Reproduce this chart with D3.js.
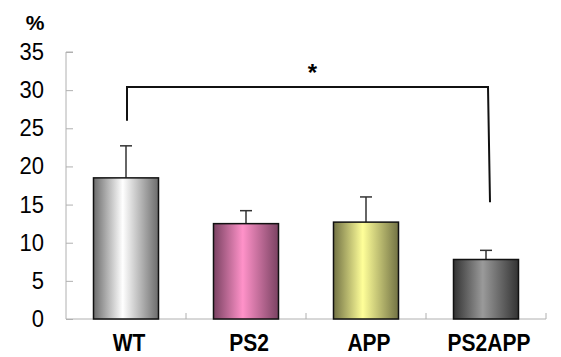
<!DOCTYPE html>
<html><head><meta charset="utf-8">
<script src="https://cdn.jsdelivr.net/npm/d3@7"></script>
<style>body{margin:0;background:#fff}</style>
</head><body>
<svg id="c" width="561" height="357"></svg>
<script>
const categories = ["WT", "PS2", "APP", "PS2APP"];
const means = [18.5, 12.5, 12.7, 7.8];
const errors = [4.2, 1.7, 3.3, 1.2];
const yTicks = [0, 5, 10, 15, 20, 25, 30, 35];
const edgeColors = ["#6c6c6c", "#7a4262", "#727244", "#333333"];
const centerColors = ["#ffffff", "#ff92c9", "#ffff99", "#9a9a9a"];
const bracket = {from: "WT", to: "PS2APP", top: 30.4, leftEnd: 26.0, rightEnd: 15.3, label: "*"};

(function () {
const svg = d3.select("#c");
const pL = 66, pR = 546, pT = 52, pB = 319;
const x = d3.scaleBand().domain(categories).range([pL, pR]).paddingInner(0).paddingOuter(0);
const y = d3.scaleLinear().domain([0, 35]).range([pB, pT]);

const defs = svg.append("defs");
categories.forEach((c, i) => {
  const g = defs.append("linearGradient").attr("id", "g" + i).attr("x1", "0").attr("x2", "1").attr("y1", "0").attr("y2", "0");
  g.append("stop").attr("offset", "0").attr("stop-color", edgeColors[i]);
  g.append("stop").attr("offset", "0.45").attr("stop-color", centerColors[i]);
  g.append("stop").attr("offset", "1").attr("stop-color", edgeColors[i]);
});

// y axis
const yAxis = svg.append("g").attr("transform", `translate(${pL},0)`)
  .call(d3.axisRight(y).tickValues(yTicks).tickSize(7).tickFormat(""));
yAxis.select(".domain").attr("stroke", "#b0b0b0").attr("d", `M7,${pT}H0V${pB}`);
yAxis.selectAll(".tick line").attr("stroke", "#b0b0b0");

svg.append("g").selectAll("text").data(yTicks).join("text")
  .attr("transform", d => `translate(44,${y(d) + 8}) scale(1,1.05)`)
  .attr("text-anchor", "end").attr("font-family", "Liberation Sans, Arial, sans-serif")
  .attr("font-size", 22).attr("fill", "#000").text(d => d);
svg.append("text").attr("x", 35).attr("y", 30).attr("text-anchor", "middle")
  .attr("font-family", "Liberation Sans, Arial, sans-serif").attr("font-weight", "bold")
  .attr("font-size", 21).text("%");

// x axis
const xAxis = svg.append("g").attr("transform", `translate(0,${pB})`)
  .call(d3.axisBottom(x).tickSize(0).tickFormat(""));
xAxis.select(".domain").attr("stroke", "#b0b0b0").attr("d", `M${pL},0H${pR}`);
xAxis.selectAll(".tick").remove();
const bounds = categories.map(c => x(c) + x.bandwidth());
svg.append("g").selectAll("line").data(bounds).join("line")
  .attr("x1", d => d).attr("x2", d => d).attr("y1", pB).attr("y2", pB - 6)
  .attr("stroke", "#b0b0b0");

// bars
const bw = 65;
const cx = c => x(c) + x.bandwidth() / 2;
svg.append("g").selectAll("line").data(categories).join("line")
  .attr("x1", c => cx(c)).attr("x2", c => cx(c))
  .attr("y1", (c, i) => y(means[i])).attr("y2", (c, i) => y(means[i] + errors[i]))
  .attr("stroke", "#333").attr("stroke-width", 1.5);
svg.append("g").selectAll("line").data(categories).join("line")
  .attr("x1", c => cx(c) - 6).attr("x2", c => cx(c) + 6)
  .attr("y1", (c, i) => y(means[i] + errors[i])).attr("y2", (c, i) => y(means[i] + errors[i]))
  .attr("stroke", "#333").attr("stroke-width", 1.5);
svg.append("g").selectAll("rect").data(categories).join("rect")
  .attr("x", c => cx(c) - bw / 2).attr("width", bw)
  .attr("y", (c, i) => y(means[i])).attr("height", (c, i) => pB - y(means[i]))
  .attr("fill", (c, i) => `url(#g${i})`).attr("stroke", "#111").attr("stroke-width", 1.5);

// x labels
svg.append("g").selectAll("text").data(categories).join("text")
  .attr("transform", c => `translate(${cx(c) + 3},${351}) scale(1,1.15)`)
  .attr("text-anchor", "middle").attr("font-family", "Liberation Sans, Arial, sans-serif")
  .attr("font-weight", "bold").attr("font-size", 21).text(c => c);

// significance bracket
const bx1 = cx(bracket.from) + 1, bx2 = cx(bracket.to) + 2;
svg.append("path")
  .attr("d", `M${bx1},${y(bracket.leftEnd)}V${y(bracket.top)}H${bx2}L${bx2 + 2},${y(bracket.rightEnd)}`)
  .attr("fill", "none").attr("stroke", "#111").attr("stroke-width", 2);
svg.append("text").attr("x", (bx1 + bx2) / 2 + 5).attr("y", 81).attr("text-anchor", "middle")
  .attr("font-family", "Liberation Sans, Arial, sans-serif").attr("font-weight", "bold")
  .attr("font-size", 24).text(bracket.label);
})();
</script>
</body></html>
